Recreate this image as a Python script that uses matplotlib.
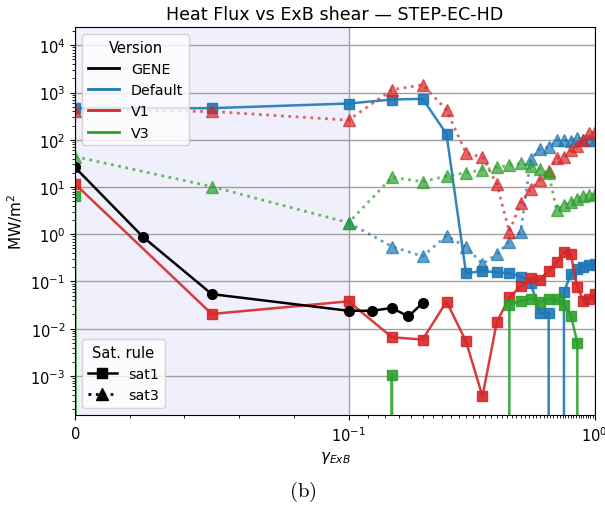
import numpy as np
import matplotlib
matplotlib.use("Agg")
import matplotlib.pyplot as plt
from matplotlib.lines import Line2D
from matplotlib.ticker import MultipleLocator

# shear values
gamma_gene = [0, 0.025, 0.05, 0.1, 0.125, 0.15, 0.175, 0.2]
gamma = [0, 0.05, 0.1, 0.15, 0.2, 0.25, 0.3, 0.35, 0.4, 0.45, 0.5,
         0.55, 0.6, 0.65, 0.7, 0.75, 0.8, 0.85, 0.9, 0.95, 1.0]

# heat flux, MW/m^2 (0 -> dropped to nothing on log axis)
gene_sat1 = [26, 0.86, 0.054, 0.024, 0.024, 0.0275, 0.0182, 0.035]
default_sat1 = [466, 466, 585, 710, 735, 133, 0.151, 0.164, 0.157, 0.149, 0.126,
                0.091, 0.021, 0.022, 0, 0.059, 0.145, 0.18, 0.2, 0.225, 0.23]
default_sat3 = [np.nan, np.nan, 1.75, 0.55, 0.34, 0.93, 0.54, 0.235, 0.38, 0.70, 1.12,
                39, 64, 69, 98, 98, 96, 110, 97, 100, 100]
v1_sat1 = [11.6, 0.0205, 0.038, 0.0066, 0.0059, 0.0374, 0.0054, 0.00037, 0.0137, 0.046, 0.079,
           0.119, 0.109, 0.17, 0.255, 0.415, 0.375, 0.075, 0.039, 0.043, 0.054]
v1_sat3 = [416, 397, 260, 1140, 1456, 430, 52, 43, 11.6, 1.13, 4.5,
           9.2, 14.2, 22, 41, 43, 60, 75, 100, 137, 145]
v3_sat1 = [6.4, 0, 0, 0.00105, 0, 0, 0, 0, 0, 0.0317, 0.039,
           0.0426, 0.0374, 0.0426, 0.0426, 0.0317, 0.019, 0.0051, 0, 0, 0]
v3_sat3 = [44, 10.2, 1.75, 16, 13, 17, 20, 23, 26, 29, 31.5,
           28.5, 24, 19.5, 3.3, 4.2, 4.9, 5.7, 6.5, 6.8, 7.0]

versions = ["GENE", "Default", "V1", "V3"]
colors = {"GENE": "black", "Default": "tab:blue", "V1": "tab:red", "V3": "tab:green"}

fig = plt.figure(figsize=(6.05, 5.1), dpi=100)
ax = fig.add_axes([0.124, 0.184, 0.859, 0.761])

ax.axvspan(0, 0.1, color="lavender", alpha=0.6, lw=0, zorder=0)

def sat1(x, y, c, m="s", ms=7):
    ax.plot(x, y, "-", color=c, marker=m, ms=ms, lw=1.8, alpha=0.9)

def sat3(x, y, c):
    ax.plot(x, y, ":", color=c, marker="^", ms=8, lw=2, alpha=0.7)

sat1(gamma, default_sat1, colors["Default"])
sat3(gamma, default_sat3, colors["Default"])
sat1(gamma, v1_sat1, colors["V1"])
sat3(gamma, v1_sat3, colors["V1"])
sat1(gamma, v3_sat1, colors["V3"])
sat3(gamma, v3_sat3, colors["V3"])
ax.plot(gamma_gene, gene_sat1, "-", color="black", marker="o", ms=7, lw=1.8)

ax.set_xscale("symlog", linthresh=0.1)
ax.set_yscale("log")
ax.set_xlim(0, 1.0)
ax.set_ylim(1.48e-4, 2.43e4)
ax.xaxis.set_minor_locator(MultipleLocator(0.02))
ax.grid(True, which="major", color="#a0a0a0", lw=1)
ax.tick_params(labelsize=10.5)

ax.set_title("Heat Flux vs ExB shear — STEP-EC-HD", fontsize=12.6)
ax.set_xlabel(r"$\gamma_{ExB}$", fontsize=11)
ax.set_ylabel(r"MW/m$^2$", fontsize=11)

h1 = [Line2D([], [], color=colors[v], lw=2) for v in versions]
leg1 = ax.legend(h1, versions, title="Version", loc="upper left", fontsize=10.3,
                 title_fontsize=10.5, handlelength=2.2)
ax.add_artist(leg1)
h2 = [Line2D([], [], color="black", ls="-", marker="s", ms=7, lw=1.8),
      Line2D([], [], color="black", ls=":", marker="^", ms=8, lw=2)]
ax.legend(h2, ["sat1", "sat3"], title="Sat. rule", loc="lower left", fontsize=10.3,
          title_fontsize=10.5)

fig.text(0.5, 0.025, r"$\mathrm{(b)}$", ha="center", fontsize=15, math_fontfamily="cm")

fig.savefig("out.png", dpi=100)
